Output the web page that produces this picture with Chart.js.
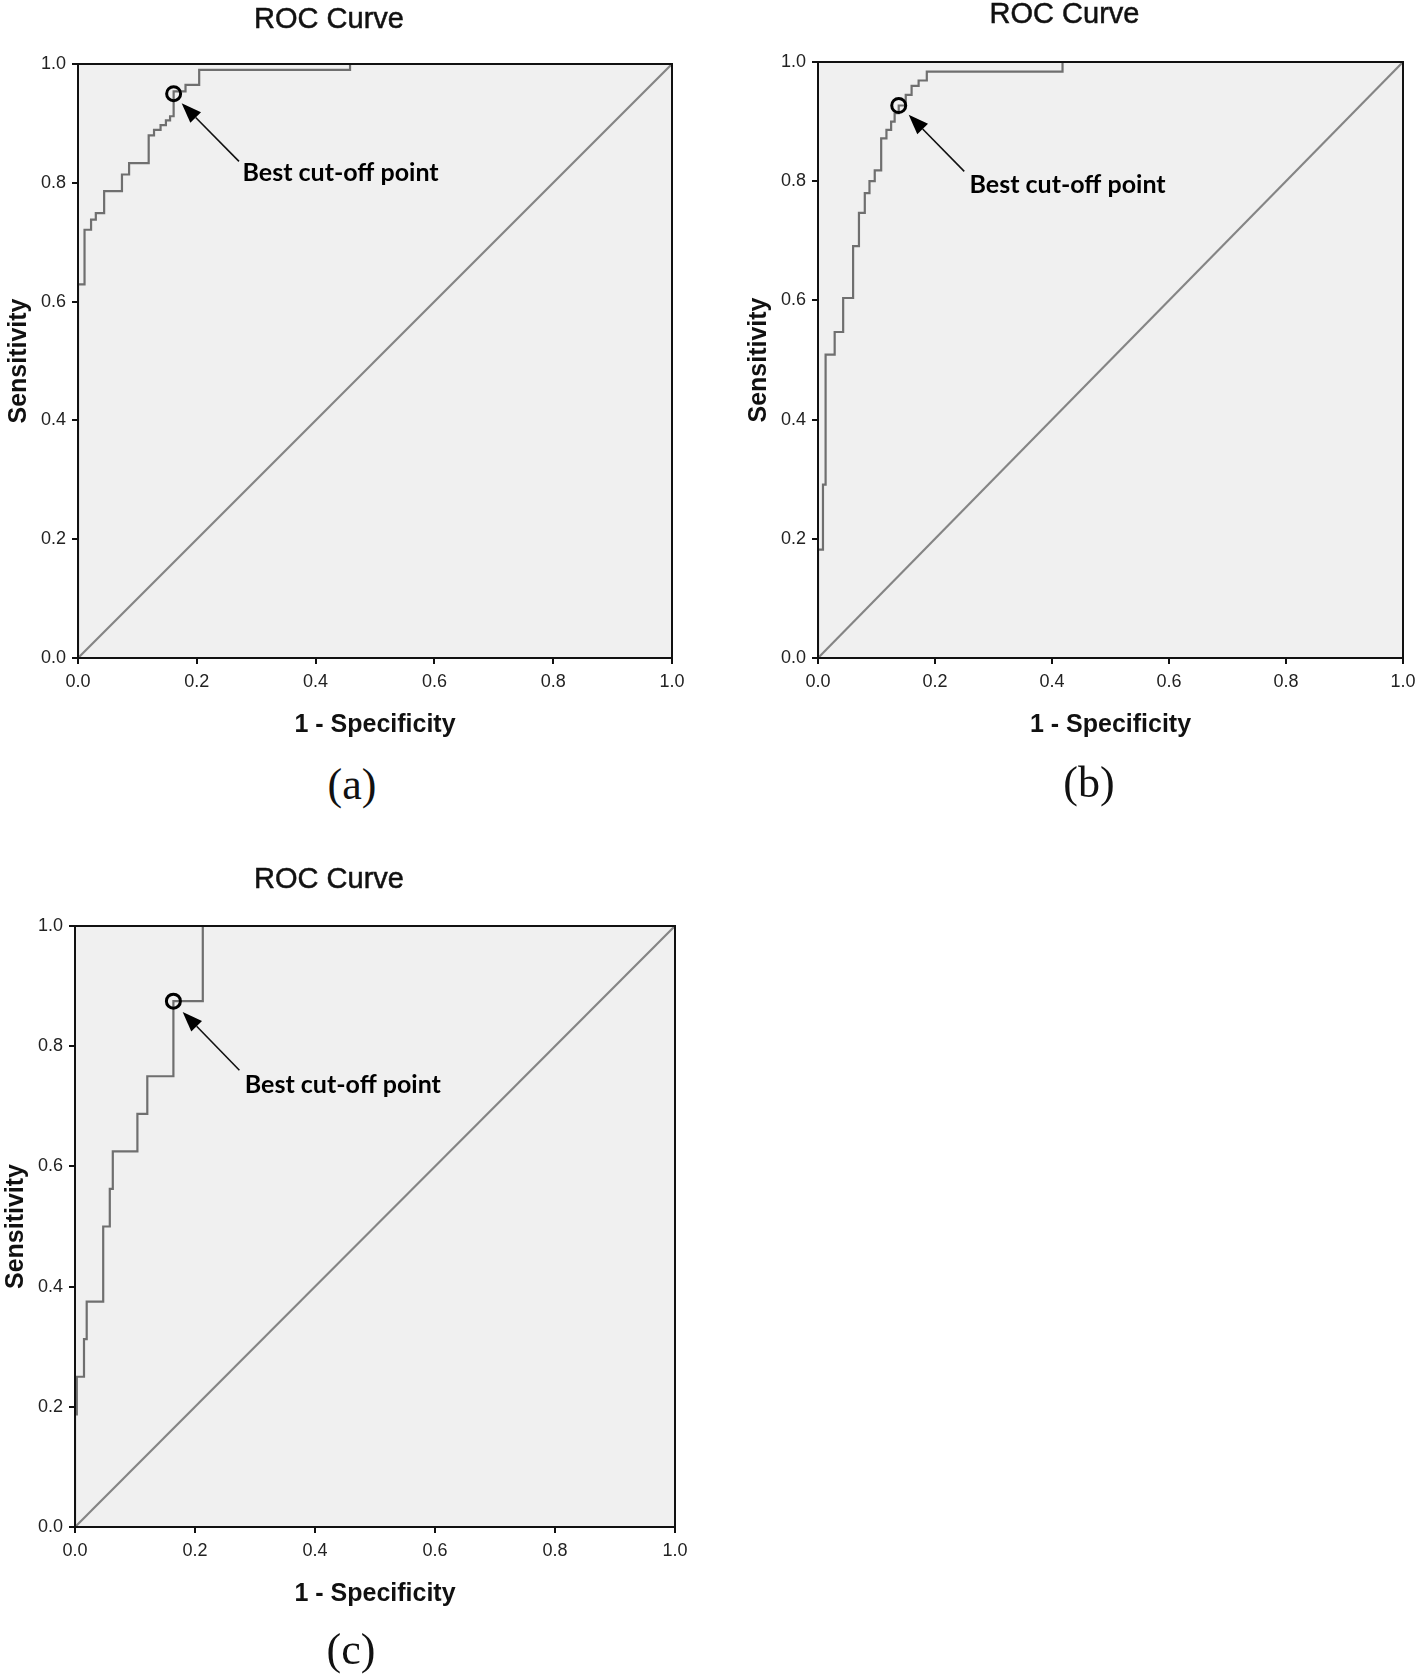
<!DOCTYPE html>
<html>
<head>
<meta charset="utf-8">
<title>ROC Curves</title>
<script src="https://cdn.jsdelivr.net/npm/chart.js@4.4.1/dist/chart.umd.min.js"></script>
<style>
  html, body { margin: 0; padding: 0; background: #fff; }
  #page { position: relative; width: 1418px; height: 1674px; overflow: hidden; background: #fff; }
  #page canvas { position: absolute; }
  .tag { position: absolute; font-family: 'Liberation Serif', 'Times New Roman', serif; font-size: 44px; color: #111; transform: translate(-50%, -50%); }
</style>
</head>
<body>
<div id="page">
  <canvas id="roc-a"></canvas>
  <canvas id="roc-b"></canvas>
  <canvas id="roc-c"></canvas>
  <div class="tag" style="left:352px; top:784px;">(a)</div>
  <div class="tag" style="left:1089px; top:782px;">(b)</div>
  <div class="tag" style="left:351px; top:1649px;">(c)</div>
</div>
<script>
// axis ticks shared by all three panels
const axisTicks = [0, 0.2, 0.4, 0.6, 0.8, 1.0];
const tickLabels = ['0.0', '0.2', '0.4', '0.6', '0.8', '1.0'];
const chanceLine = [0, 1];

// panel (a) - ROC vertices (1 - specificity, sensitivity)
const fprA = [0, 0, 0.011, 0.022, 0.030, 0.044, 0.074, 0.086, 0.119, 0.128, 0.139, 0.148, 0.155, 0.161, 0.181, 0.204, 0.458, 1.0];
const tprA = [0, 0.629, 0.721, 0.738, 0.749, 0.786, 0.814, 0.833, 0.880, 0.889, 0.897, 0.905, 0.912, 0.954, 0.965, 0.990, 1.0, 1.0];
const cutA = [0.161, 0.950];

// panel (b)
const fprB = [0, 0, 0.0085, 0.013, 0.0285, 0.043, 0.060, 0.070, 0.080, 0.088, 0.097, 0.108, 0.117, 0.125, 0.131, 0.138, 0.150, 0.160, 0.172, 0.186, 0.418, 1.0];
const tprB = [0, 0.182, 0.291, 0.509, 0.547, 0.604, 0.691, 0.747, 0.780, 0.800, 0.818, 0.872, 0.886, 0.900, 0.914, 0.927, 0.945, 0.960, 0.969, 0.984, 1.0, 1.0];
const cutB = [0.138, 0.927];

// panel (c)
const fprC = [0, 0, 0.003, 0.015, 0.0195, 0.047, 0.058, 0.063, 0.104, 0.1205, 0.164, 0.213, 1.0];
const tprC = [0, 0.1875, 0.25, 0.3125, 0.375, 0.5, 0.5625, 0.625, 0.6875, 0.75, 0.875, 1.0, 1.0];
const cutC = [0.164, 0.875];

const noteText = 'Best cut-off point';

Chart.defaults.font.family = '"Liberation Sans", Arial, sans-serif';

// grey plot background and black frame (SPSS look)
const plotFrame = {
  id: 'plotFrame',
  beforeDraw(chart) {
    const { ctx, chartArea: a } = chart;
    ctx.save();
    ctx.fillStyle = '#f0f0f0';
    ctx.fillRect(a.left, a.top, a.width, a.height);
    ctx.restore();
  },
  afterDatasetsDraw(chart) {
    const { ctx, chartArea: a } = chart;
    ctx.save();
    ctx.strokeStyle = '#111';
    ctx.lineWidth = 2;
    ctx.strokeRect(a.left, a.top, a.width, a.height);
    ctx.restore();
  }
};

// title sits left of the plot centre, like SPSS does it
const panelTitle = {
  id: 'panelTitle',
  afterDraw(chart, args, opts) {
    const { ctx, chartArea: a } = chart;
    ctx.save();
    ctx.font = '29px "Liberation Sans", Arial, sans-serif';
    ctx.fillStyle = '#111';
    ctx.strokeStyle = '#111';
    ctx.lineWidth = 0.5;
    ctx.textAlign = 'center';
    ctx.textBaseline = 'middle';
    const cx = (a.left + a.right) / 2 + opts.shift, cy = a.top - opts.gap;
    ctx.fillText(opts.text, cx, cy);
    ctx.strokeText(opts.text, cx, cy);
    ctx.restore();
  }
};

// arrow + label pointing at the cut-off point
const cutoffNote = {
  id: 'cutoffNote',
  afterDraw(chart, args, opts) {
    const { ctx } = chart;
    const sx = chart.scales.x, sy = chart.scales.y;
    const tx = sx.getPixelForValue(opts.tail[0]), ty = sy.getPixelForValue(opts.tail[1]);
    const hx = sx.getPixelForValue(opts.head[0]), hy = sy.getPixelForValue(opts.head[1]);
    const ang = Math.atan2(hy - ty, hx - tx);
    const len = 20, half = 7.5;
    const bx = hx - len * Math.cos(ang), by = hy - len * Math.sin(ang);
    ctx.save();
    ctx.strokeStyle = '#111';
    ctx.fillStyle = '#000';
    ctx.lineWidth = 1.6;
    ctx.beginPath();
    ctx.moveTo(tx, ty);
    ctx.lineTo(bx, by);
    ctx.stroke();
    ctx.beginPath();
    ctx.moveTo(hx, hy);
    ctx.lineTo(bx + half * Math.sin(ang), by - half * Math.cos(ang));
    ctx.lineTo(bx - half * Math.sin(ang), by + half * Math.cos(ang));
    ctx.closePath();
    ctx.fill();
    ctx.font = 'bold 25px Lato, "Open Sans", sans-serif';
    ctx.textAlign = 'left';
    ctx.textBaseline = 'middle';
    ctx.fillText(noteText, sx.getPixelForValue(opts.label[0]), sy.getPixelForValue(opts.label[1]));
    ctx.restore();
  }
};

function axis(title, side) {
  const isX = side === 'x';
  return {
    type: 'linear',
    min: 0,
    max: 1,
    afterBuildTicks: s => { s.ticks = axisTicks.map(v => ({ value: v })); },
    afterFit: s => { if (isX) s.height = 100; else s.width = 80; },
    ticks: {
      callback: (v, i) => tickLabels[i],
      font: { size: 18 },
      color: '#222',
      padding: isX ? 7 : 6,
      autoSkip: false,
      maxRotation: 0
    },
    grid: { drawOnChartArea: false, drawTicks: true, tickLength: 6, color: '#111', lineWidth: 2 },
    border: { display: true, color: '#111', width: 2 },
    title: {
      display: true,
      text: title,
      color: '#111',
      font: { size: 25, weight: 'bold' },
      padding: isX ? { top: 0, bottom: 18 } : { top: 6, bottom: 0 }
    }
  };
}

function drawRoc(id, plot, fpr, tpr, cut, note, titleGap) {
  const canvas = document.getElementById(id);
  canvas.width = plot.width + 110;
  canvas.height = plot.height + 170;
  canvas.style.left = (plot.left - 80) + 'px';
  canvas.style.top = (plot.top - 70) + 'px';

  new Chart(canvas, {
    type: 'line',
    data: {
      datasets: [
        {
          data: fpr.map((x, i) => ({ x, y: tpr[i] })),
          stepped: 'before',
          borderColor: '#6f6f6f',
          borderWidth: 2.2,
          pointRadius: 0,
          fill: false,
          order: 1
        },
        {
          data: chanceLine.map(v => ({ x: v, y: v })),
          borderColor: '#858585',
          borderWidth: 2.2,
          pointRadius: 0,
          fill: false,
          order: 2
        },
        {
          type: 'scatter',
          data: [{ x: cut[0], y: cut[1] }],
          pointStyle: 'circle',
          pointRadius: 7,
          pointBorderWidth: 3,
          pointBorderColor: '#000',
          pointBackgroundColor: 'rgba(0,0,0,0)',
          showLine: false,
          order: 0
        }
      ]
    },
    options: {
      responsive: false,
      animation: false,
      devicePixelRatio: 1,
      layout: { padding: { left: 0, top: 70, right: 30, bottom: 0 } },
      plugins: {
        legend: { display: false },
        tooltip: { enabled: false },
        panelTitle: { text: 'ROC Curve', shift: -46, gap: titleGap },
        cutoffNote: note
      },
      scales: {
        x: axis('1 - Specificity', 'x'),
        y: axis('Sensitivity', 'y')
      }
    },
    plugins: [plotFrame, panelTitle, cutoffNote]
  });
}

drawRoc('roc-a', { left: 78, top: 64, width: 594, height: 594 }, fprA, tprA, cutA,
  { head: [0.1745, 0.934], tail: [0.271, 0.836], label: [0.277, 0.8165] }, 44);
drawRoc('roc-b', { left: 818, top: 62, width: 585, height: 596 }, fprB, tprB, cutB,
  { head: [0.155, 0.9116], tail: [0.250, 0.8164], label: [0.259, 0.794] }, 47);
drawRoc('roc-c', { left: 75, top: 926, width: 600, height: 601 }, fprC, tprC, cutC,
  { head: [0.1795, 0.857], tail: [0.274, 0.760], label: [0.283, 0.735] }, 46);
</script>
</body>
</html>
